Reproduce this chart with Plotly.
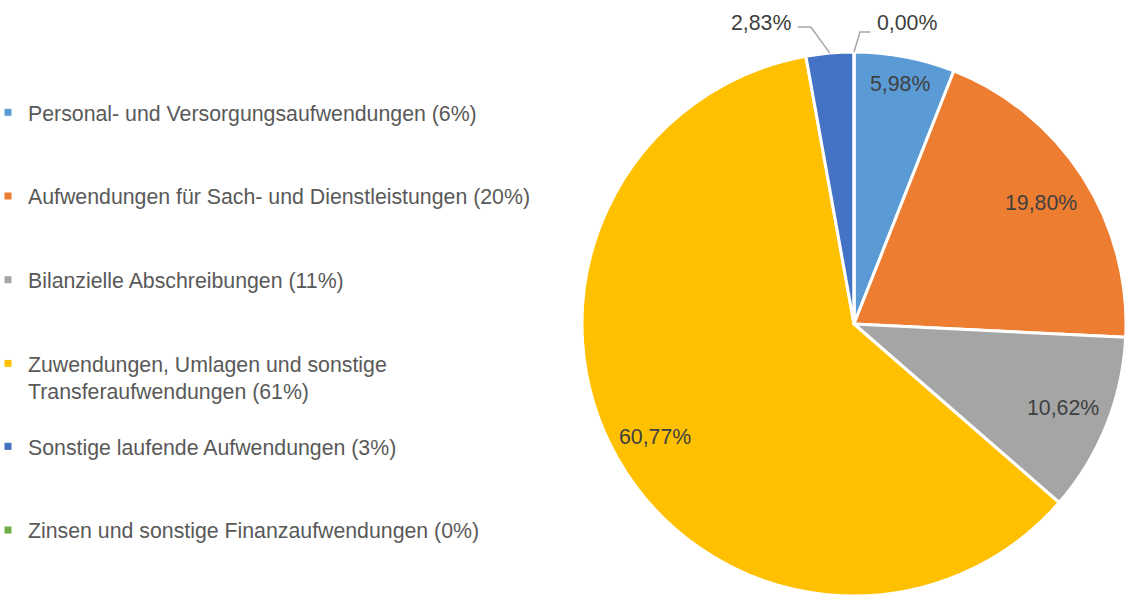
import math
import plotly.graph_objects as go

# ---- data ----
categories = [
    "Personal- und Versorgungsaufwendungen",
    "Aufwendungen für Sach- und Dienstleistungen",
    "Bilanzielle Abschreibungen",
    "Zuwendungen, Umlagen und sonstige Transferaufwendungen",
    "Sonstige laufende Aufwendungen",
    "Zinsen und sonstige Finanzaufwendungen",
]
legend_labels = [
    "Personal- und Versorgungsaufwendungen (6%)",
    "Aufwendungen für Sach- und Dienstleistungen (20%)",
    "Bilanzielle Abschreibungen (11%)",
    "Zuwendungen, Umlagen und sonstige<br>Transferaufwendungen (61%)",
    "Sonstige laufende Aufwendungen (3%)",
    "Zinsen und sonstige Finanzaufwendungen (0%)",
]
values = [5.98, 19.80, 10.62, 60.77, 2.83, 0.00]
colors = ["#5B9BD5", "#ED7D31", "#A5A5A5", "#FFC000", "#4472C4", "#70AD47"]

# ---- style / layout constants ----
W, H = 1126, 597
CX, CY, R = 854, 324, 272
FONT = "Liberation Sans, Arial, sans-serif"
label_frac = [0.90, 0.82, 0.83, 0.84]          # inside label radius (fraction of R)
leader_style = {                                 # outside labels: elbow offset, run, text dy
    4: dict(elbow=(-19, -26), run=-13, tdy=-4),
    5: dict(elbow=(6, -20), run=10, tdy=-9),
}


def px(x):
    return x / W


def py(y):
    return 1 - y / H


fig = go.Figure()

fig.add_trace(go.Pie(
    values=values,
    labels=categories,
    marker=dict(colors=colors, line=dict(color="white", width=3)),
    sort=False,
    direction="clockwise",
    rotation=0,
    textinfo="none",
    hoverinfo="label+percent",
    showlegend=False,
    domain=dict(x=[px(CX - R), px(CX + R)], y=[py(CY + R), py(CY - R)]),
))

# legend entries
for i, (lab, col) in enumerate(zip(legend_labels, colors)):
    fig.add_trace(go.Scatter(
        x=[None], y=[None], mode="markers",
        marker=dict(symbol="square", size=7, color=col),
        name=lab, legendgroup=str(i),
        legend="legend" if i < 4 else "legend2",
        hoverinfo="skip",
    ))

# data labels computed from values
total = sum(values)
annotations = []
shapes = []
cum = 0.0
for i, v in enumerate(values):
    mid = cum + v / 2
    cum += v
    theta = math.radians(mid / total * 360)
    txt = f"{v:.2f}".replace(".", ",") + "%"
    if i in leader_style:
        st = leader_style[i]
        x0 = CX + R * math.sin(theta)
        y0 = CY - R * math.cos(theta)
        x1 = x0 + st["elbow"][0]
        y1 = y0 + st["elbow"][1]
        x2 = x1 + st["run"]
        shapes.append(dict(
            type="path", xref="paper", yref="paper",
            path=f"M {px(x0)},{py(y0)} L {px(x1)},{py(y1)} L {px(x2)},{py(y1)}",
            line=dict(color="#A6A6A6", width=1.5),
        ))
        left = st["run"] < 0
        annotations.append(dict(
            x=px(x2 + (-5 if left else 5)), y=py(y1 + st["tdy"]),
            xref="paper", yref="paper", text=txt, showarrow=False,
            xanchor="right" if left else "left", yanchor="middle",
            font=dict(family=FONT, size=21.3, color="#404040"),
        ))
    else:
        rr = R * label_frac[i]
        annotations.append(dict(
            x=px(CX + rr * math.sin(theta)), y=py(CY - rr * math.cos(theta)),
            xref="paper", yref="paper", text=txt, showarrow=False,
            xanchor="center", yanchor="middle",
            font=dict(family=FONT, size=21.3, color="#404040"),
        ))

legend_common = dict(
    xanchor="left", yanchor="top",
    font=dict(family=FONT, size=21.3, color="#595959"),
    tracegroupgap=53, valign="top",
    bgcolor="rgba(0,0,0,0)", borderwidth=0,
    itemclick=False, itemdoubleclick=False,
)

fig.update_layout(
    width=W, height=H,
    margin=dict(l=0, r=0, t=0, b=0, autoexpand=False),
    paper_bgcolor="white", plot_bgcolor="rgba(0,0,0,0)",
    font=dict(family=FONT),
    separators=",.",
    xaxis=dict(visible=False), yaxis=dict(visible=False),
    legend=dict(x=-12 / W, y=py(92), **legend_common),
    legend2=dict(x=-12 / W, y=py(426), **legend_common),
    annotations=annotations,
    shapes=shapes,
    showlegend=True,
)

fig.write_html("out.html")
